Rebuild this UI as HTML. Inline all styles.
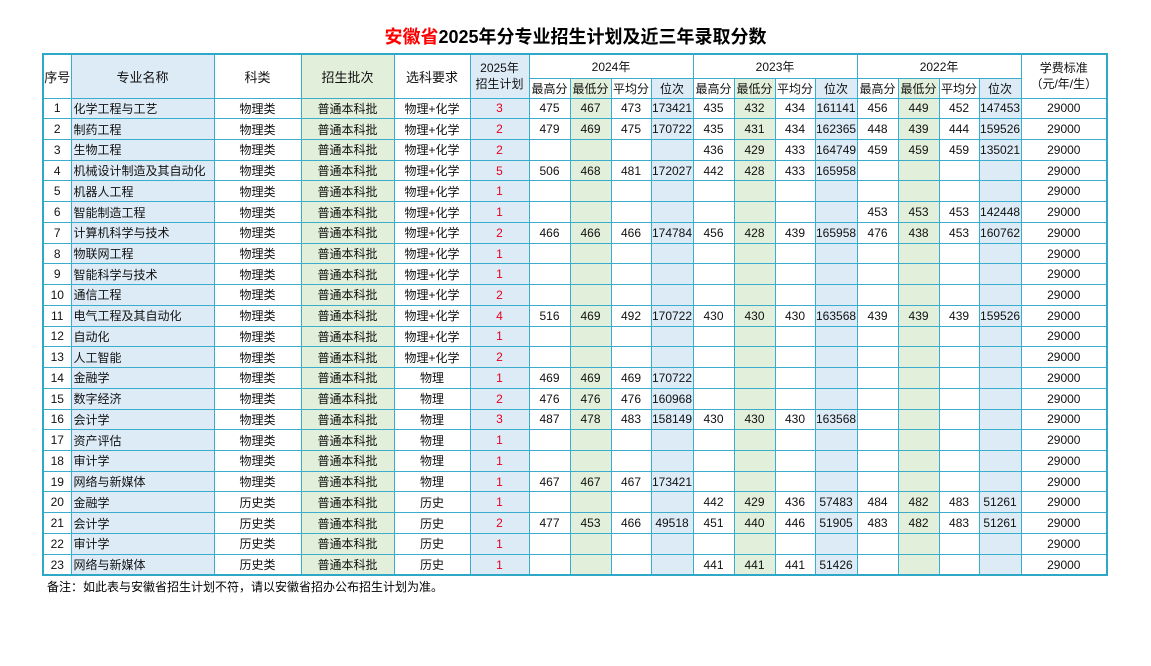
<!DOCTYPE html>
<html><head><meta charset="utf-8"><style>
body{margin:0;width:1151px;height:666px;background:#fff;font-family:"Liberation Sans","Noto Sans CJK SC",sans-serif;position:relative;overflow:hidden}
.title{position:absolute;left:0;width:1151px;top:23px;text-align:center;font-size:18px;font-weight:bold;color:#000}
.title span{color:#f00}
table{position:absolute;left:42px;top:53px;border-collapse:collapse;table-layout:fixed;width:1064px;border:2px solid #2fa8c8}
td{border:1px solid #3aaccc;text-align:center;font-size:12px;padding:0;color:#111;white-space:nowrap;overflow:hidden}
tr.d td{height:19.74px}
td.n{text-align:left;padding-left:2px}
.b{background:#ddebf7}.g{background:#e2efda}
.r{color:#e8001c}
.note{position:absolute;left:47px;top:578px;font-size:12px}
</style></head><body>
<div class="title"><span>安徽省</span>2025年分专业招生计划及近三年录取分数</div>
<table>
<colgroup><col style="width:28px"><col style="width:143px"><col style="width:87px"><col style="width:93px"><col style="width:76px"><col style="width:59px">
<col style="width:41px"><col style="width:41px"><col style="width:40px"><col style="width:42px">
<col style="width:41px"><col style="width:41px"><col style="width:40px"><col style="width:42px">
<col style="width:41px"><col style="width:41px"><col style="width:40px"><col style="width:42px"><col style="width:86px"></colgroup>
<tr style="height:24px"><td rowspan="2" style="font-size:13px">序号</td><td rowspan="2" class="b" style="font-size:13px">专业名称</td><td rowspan="2" style="font-size:13px">科类</td><td rowspan="2" class="g" style="font-size:13px">招生批次</td><td rowspan="2" style="font-size:13px">选科要求</td><td rowspan="2" class="b" style="font-size:12px;line-height:16px">2025年<br>招生计划</td><td colspan="4">2024年</td><td colspan="4">2023年</td><td colspan="4">2022年</td><td rowspan="2" style="line-height:16px">学费标准<br>（元/年/生）</td></tr>
<tr style="height:20px"><td>最高分</td><td class="g">最低分</td><td>平均分</td><td class="b">位次</td><td>最高分</td><td class="g">最低分</td><td>平均分</td><td class="b">位次</td><td>最高分</td><td class="g">最低分</td><td>平均分</td><td class="b">位次</td></tr>
<script>
var R=[
[1,"化学工程与工艺","物理类","物理+化学",3,"475 467 473 173421","435 432 434 161141","456 449 452 147453"],
[2,"制药工程","物理类","物理+化学",2,"479 469 475 170722","435 431 434 162365","448 439 444 159526"],
[3,"生物工程","物理类","物理+化学",2,"","436 429 433 164749","459 459 459 135021"],
[4,"机械设计制造及其自动化","物理类","物理+化学",5,"506 468 481 172027","442 428 433 165958",""],
[5,"机器人工程","物理类","物理+化学",1,"","",""],
[6,"智能制造工程","物理类","物理+化学",1,"","","453 453 453 142448"],
[7,"计算机科学与技术","物理类","物理+化学",2,"466 466 466 174784","456 428 439 165958","476 438 453 160762"],
[8,"物联网工程","物理类","物理+化学",1,"","",""],
[9,"智能科学与技术","物理类","物理+化学",1,"","",""],
[10,"通信工程","物理类","物理+化学",2,"","",""],
[11,"电气工程及其自动化","物理类","物理+化学",4,"516 469 492 170722","430 430 430 163568","439 439 439 159526"],
[12,"自动化","物理类","物理+化学",1,"","",""],
[13,"人工智能","物理类","物理+化学",2,"","",""],
[14,"金融学","物理类","物理",1,"469 469 469 170722","",""],
[15,"数字经济","物理类","物理",2,"476 476 476 160968","",""],
[16,"会计学","物理类","物理",3,"487 478 483 158149","430 430 430 163568",""],
[17,"资产评估","物理类","物理",1,"","",""],
[18,"审计学","物理类","物理",1,"","",""],
[19,"网络与新媒体","物理类","物理",1,"467 467 467 173421","",""],
[20,"金融学","历史类","历史",1,"","442 429 436 57483","484 482 483 51261"],
[21,"会计学","历史类","历史",2,"477 453 466 49518","451 440 446 51905","483 482 483 51261"],
[22,"审计学","历史类","历史",1,"","",""],
[23,"网络与新媒体","历史类","历史",1,"","441 441 441 51426",""]];
var h="";
R.forEach(function(r){
h+='<tr class="d"><td>'+r[0]+'</td><td class="b n">'+r[1]+'</td><td>'+r[2]+'</td><td class="g">普通本科批</td><td>'+r[3]+'</td><td class="b r">'+r[4]+'</td>';
for(var k=5;k<8;k++){var v=r[k]?r[k].split(" "):["","","",""];
h+='<td>'+v[0]+'</td><td class="g">'+v[1]+'</td><td>'+v[2]+'</td><td class="b">'+v[3]+'</td>';}
h+='<td>29000</td></tr>';});
document.write(h);
</script>
</table>
<div class="note">备注：如此表与安徽省招生计划不符，请以安徽省招办公布招生计划为准。</div>
</body></html>
